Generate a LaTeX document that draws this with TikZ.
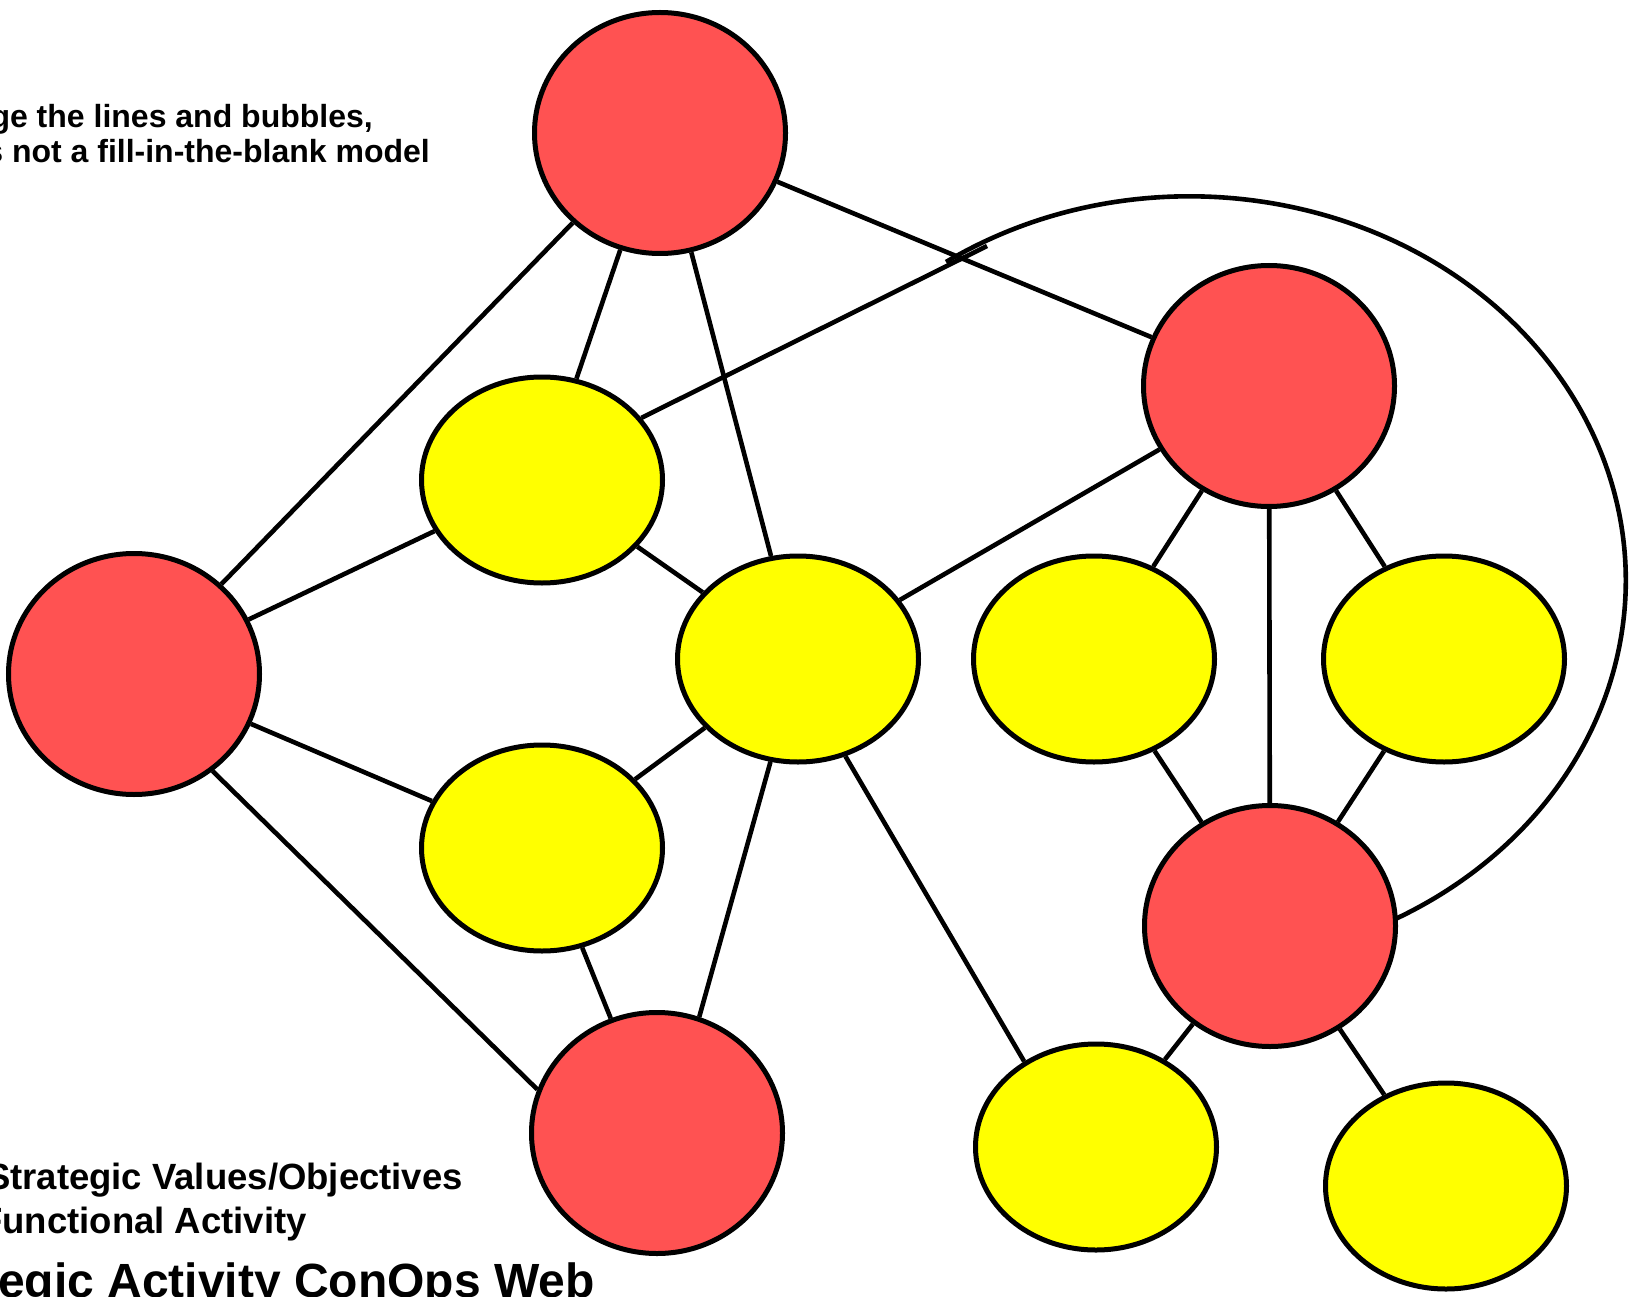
\documentclass[tikz,border=0pt]{standalone}
\usepackage{fontspec}
\setmainfont{Liberation Sans}
\usetikzlibrary{shapes.geometric}
\definecolor{bubblered}{RGB}{255,82,82}
\definecolor{bubbleyellow}{RGB}{255,255,0}
\begin{document}
\begin{tikzpicture}[x=1pt,y=-1pt,
        redball/.style={ellipse,draw,line width=5pt,fill=bubblered,minimum width=251pt,minimum height=241pt,inner sep=0pt},
        yellowball/.style={ellipse,draw,line width=5pt,fill=bubbleyellow,minimum width=241pt,minimum height=206pt,inner sep=0pt},
        link/.style={line width=4.6pt},
        note/.style={anchor=base east,inner sep=0pt,font=\bfseries\fontsize{32}{38}\selectfont},
        legend/.style={note,font=\bfseries\fontsize{36.5}{44}\selectfont},
        heading/.style={note,font=\bfseries\fontsize{48}{58}\selectfont}]
    \useasboundingbox (0,0) rectangle (1633,1297);
    % strategic values / objectives
    \node[redball] (top) at (660,133) {};
    \node[redball] (left) at (134,674) {};
    \node[redball] (ru) at (1269,386) {};
    \node[redball] (rl) at (1270,926) {};
    \node[redball] (bot) at (657,1133) {};
    % functional activities
    \node[yellowball] (y1) at (542,480) {};
    \node[yellowball] (y2) at (798,659) {};
    \node[yellowball] (y3) at (542,848) {};
    \node[yellowball] (y4) at (1094,659) {};
    \node[yellowball] (y5) at (1444,659) {};
    \node[yellowball] (y6) at (1096,1147) {};
    \node[yellowball] (y7) at (1446,1186) {};
    \coordinate (kink) at (987,246);
    \coordinate (loopstart) at (946,262);
    \draw[link] (top) -- (left);
    \draw[link] (top) -- (y1);
    \draw[link] (top) -- (y2);
    \draw[link] (top) -- (ru);
    \draw[link] (y1.32) -- (kink);
    \draw[link] (loopstart) arc[start angle=-124, end angle=62, x radius=436, y radius=384];
    \draw[link] (left) -- (y1);
    \draw[link] (left) -- (y3);
    \draw[link] (left.-51) -- (bot.160);
    \draw[link] (y1) -- (y2);
    \draw[link] (y2) -- (y3);
    \draw[link] (y2.-105) -- (bot.70);
    \draw[link] (y2) -- (ru);
    \draw[link] (y2.-64) -- (y6.130);
    \draw[link] (y3) -- (bot);
    \draw[link] (ru) -- (y4);
    \draw[link] (ru) -- (y5);
    \draw[link] (ru) -- (rl);
    \draw[link] (y4) -- (rl);
    \draw[link] (y5) -- (rl);
    \draw[link] (rl) -- (y6);
    \draw[link] (rl) -- (y7);
    % texts, cut at the left edge
    \node[note] (hint1) at (373,128) {ge the lines and bubbles,};
    \node[note] (hint2) at (430,163) {s not a fill-in-the-blank model};
    \node[legend] (key1) at (463,1189) {Strategic Values/Objectives};
    \node[legend] (key2) at (307,1233) {Functional Activity};
    \node[heading] (title) at (595,1297) {egic Activity ConOps Web};
\end{tikzpicture}
\end{document}
